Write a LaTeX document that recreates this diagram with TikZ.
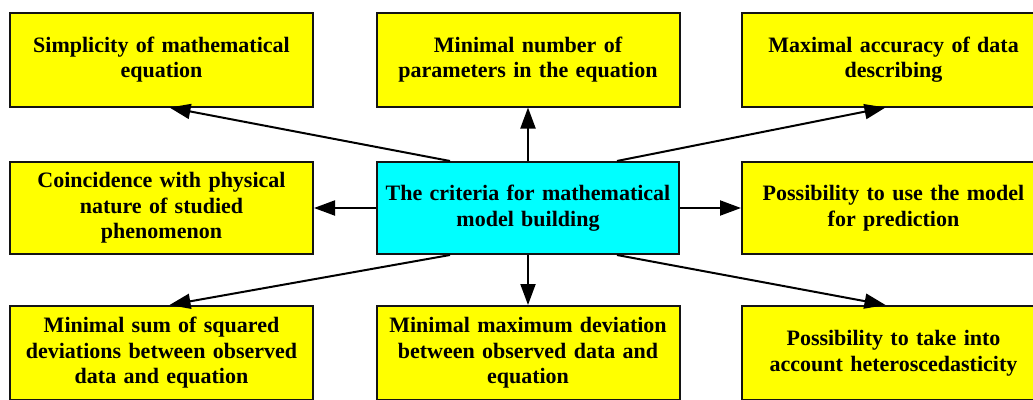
\documentclass[tikz,border=0pt]{standalone}
\usepackage{fontspec}
\setmainfont{Liberation Serif}
\usetikzlibrary{arrows.meta,calc}
\definecolor{boxyellow}{RGB}{255,255,0}
\definecolor{boxcyan}{RGB}{0,255,255}
\definecolor{edge}{RGB}{20,20,20}
\begin{document}
\begin{tikzpicture}[x=1pt,y=-1pt,
  critbox/.style={draw=edge,line width=2pt,fill=boxyellow,rectangle,inner sep=0pt,
    minimum width=303pt,minimum height=94pt,text width=296pt,align=center,
    font=\fontsize{22pt}{25.5pt}\selectfont\bfseries},
  centerbox/.style={critbox,fill=boxcyan,minimum width=302pt,minimum height=92pt},
  conn/.style={line width=2pt,draw=black,-{Triangle[length=21pt,width=15pt]}}]
\fill[white] (0,0) rectangle (1033,399);
\clip (0,0) rectangle (1033,399);
\node[critbox] (s1) at (161.5,59.5) {Simplicity of mathematical\\equation};
\node[critbox] (s2) at (528,59.5) {Minimal number of\\parameters in the equation};
\node[critbox] (s3) at (893.5,59.5) {Maximal accuracy of data\\describing};
\node[critbox,minimum height=92pt] (m1) at (161.5,208) {Coincidence with physical\\nature of studied\\phenomenon};
\node[centerbox] (c) at (528,208) {The criteria for mathematical\\model building};
\node[critbox,minimum height=92pt] (m3) at (893.5,208) {Possibility to use the model\\for prediction};
\node[critbox] (b1) at (161.5,353) {Minimal sum of squared\\deviations between observed\\data and equation};
\node[critbox] (b2) at (528,353) {Minimal maximum deviation\\between observed data and\\equation};
\node[critbox] (b3) at (893.5,353) {Possibility to take into\\account heteroscedasticity};
\draw[conn] ($(c.north)+(-78,0)$) -- ($(s1.south)+(8,0)$);
\draw[conn] (c.north) -- (s2.south);
\draw[conn] ($(c.north)+(89,0)$) -- ($(s3.south)+(-8,0)$);
\draw[conn] (c.west) -- (m1.east);
\draw[conn] (c.east) -- (m3.west);
\draw[conn] ($(c.south)+(-78,0)$) -- ($(b1.north)+(8,0)$);
\draw[conn] (c.south) -- (b2.north);
\draw[conn] ($(c.south)+(89,0)$) -- ($(b3.north)+(-8,0)$);
\end{tikzpicture}
\end{document}
